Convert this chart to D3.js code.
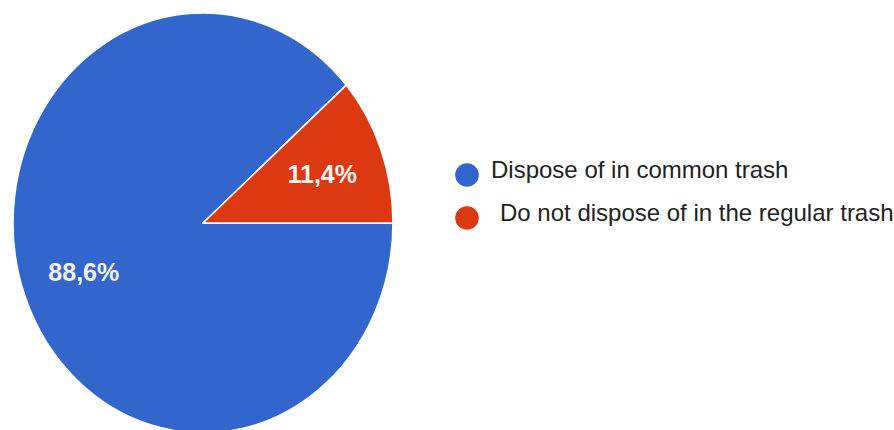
<!DOCTYPE html>
<html>
<head>
<meta charset="utf-8">
<script src="https://cdn.jsdelivr.net/npm/d3@7/dist/d3.min.js"></script>
<style>
  html, body { margin: 0; padding: 0; background: #ffffff; }
  svg { display: block; }
</style>
</head>
<body>
<svg id="chart" width="894" height="430"></svg>
<script>
// Survey answers and their shares (percent)
const categories = ["Dispose of in common trash", "Do not dispose of in the regular trash"];
const shares = [88.6, 11.4];
const shareLabels = ["88,6%", "11,4%"];
const colors = ["#3366cc", "#dc3912"];

const W = 894, H = 430;
const cx = 203, cy = 223;     // pie centre
const rx = 190, ry = 210;     // horizontal / vertical radii (slightly oval)
const labelK = 0.67;          // label distance as a fraction of the radius

const svg = d3.select("#chart");

const data = categories.map((c, i) => ({ name: c, value: shares[i], label: shareLabels[i], color: colors[i] }));

// First slice starts at 3 o'clock and runs clockwise
const pie = d3.pie()
  .sort(null)
  .value(d => d.value)
  .startAngle(Math.PI / 2)
  .endAngle(Math.PI / 2 + 2 * Math.PI);

const arcs = pie(data);

const arc = d3.arc().innerRadius(0).outerRadius(rx);
const labelArc = d3.arc().innerRadius(rx * labelK).outerRadius(rx * labelK);

const pieG = svg.append("g")
  .attr("transform", `translate(${cx},${cy}) scale(1,${ry / rx})`);

pieG.selectAll("path")
  .data(arcs)
  .join("path")
  .attr("d", arc)
  .attr("fill", d => d.data.color)
  .attr("stroke", "#ffffff")
  .attr("stroke-width", 1.6)
  .attr("vector-effect", "non-scaling-stroke")
  .attr("stroke-linejoin", "round");

// Percentage labels, positioned on the oval but drawn unscaled
svg.append("g")
  .selectAll("text")
  .data(arcs)
  .join("text")
  .attr("x", d => cx + labelArc.centroid(d)[0])
  .attr("y", d => cy + labelArc.centroid(d)[1] * ry / rx)
  .attr("text-anchor", "middle")
  .attr("dominant-baseline", "central")
  .attr("font-family", "'Liberation Sans', Arial, sans-serif")
  .attr("font-weight", "bold")
  .attr("font-size", 25)
  .attr("fill", "#f6f2ef")
  .text(d => d.data.label);

// Legend
const legendX = 467, legendY = [175, 218], textX = [491, 500];
const legend = svg.append("g");
data.forEach((d, i) => {
  legend.append("circle")
    .attr("cx", legendX)
    .attr("cy", legendY[i])
    .attr("r", 11.8)
    .attr("fill", d.color);
  legend.append("text")
    .attr("x", textX[i])
    .attr("y", legendY[i] + 3)
    .attr("font-family", "'Liberation Sans', Arial, sans-serif")
    .attr("font-size", 24)
    .attr("fill", "#222222")
    .text(d.name);
});
</script>
</body>
</html>
